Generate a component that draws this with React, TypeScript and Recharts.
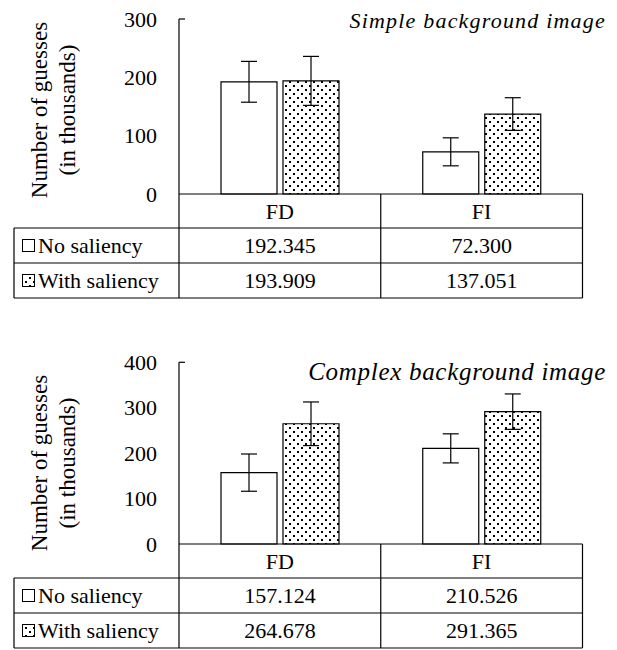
import { BarChart, Bar, XAxis, YAxis, ErrorBar } from 'recharts';

const categories = ['FD', 'FI'];
const seriesNames = ['No saliency', 'With saliency'];

const simpleNo = [192.345, 72.3];
const simpleWith = [193.909, 137.051];
const simpleNoErr = [35, 24];
const simpleWithErr = [42, 28];
const simpleTicks = [0, 100, 200, 300];

const complexNo = [157.124, 210.526];
const complexWith = [264.678, 291.365];
const complexNoErr = [41, 32];
const complexWithErr = [48, 39];
const complexTicks = [0, 100, 200, 300, 400];

const FONT = 'Liberation Serif';
const FS = 22;
const W = 617;
const YW = 179;
const MR = 34.5;
const HALF = (W - YW - MR) / 4;
const ROWS = [34, 35, 35];
const TABLE_H = ROWS[0] + ROWS[1] + ROWS[2];
const LEFT_X = 14;

function TableTick(props: any) {
  const { x, y, payload, noVals, withVals, pid } = props;
  const i = categories.indexOf(payload.value);
  const l = x - HALF;
  const r = x + HALF;
  const y1 = y + ROWS[0];
  const y2 = y1 + ROWS[1];
  const y3 = y2 + ROWS[2];
  const ln = { stroke: '#000', strokeWidth: 1.2 };
  const txt = { fontSize: FS, fontFamily: FONT, fill: '#000', dominantBaseline: 'central' as const };
  return (
    <g>
      <line x1={r} y1={y} x2={r} y2={y3} {...ln} />
      <line x1={i === 0 ? LEFT_X : l} y1={y1} x2={r} y2={y1} {...ln} />
      <line x1={i === 0 ? LEFT_X : l} y1={y2} x2={r} y2={y2} {...ln} />
      <line x1={i === 0 ? LEFT_X : l} y1={y3} x2={r} y2={y3} {...ln} />
      <text x={x} y={y + ROWS[0] / 2} textAnchor="middle" {...txt}>{payload.value}</text>
      <text x={x} y={y1 + ROWS[1] / 2} textAnchor="middle" {...txt}>{noVals[i].toFixed(3)}</text>
      <text x={x} y={y2 + ROWS[2] / 2} textAnchor="middle" {...txt}>{withVals[i].toFixed(3)}</text>
      {i === 0 && (
        <g>
          <line x1={l} y1={y} x2={l} y2={y3} {...ln} />
          <line x1={LEFT_X} y1={y1} x2={LEFT_X} y2={y3} {...ln} />
          <rect x={22.5} y={y1 + ROWS[1] / 2 - 6} width={12} height={12} fill="#fff" stroke="#000" strokeWidth={1} />
          <text x={38} y={y1 + ROWS[1] / 2} textAnchor="start" {...txt}>{seriesNames[0]}</text>
          <rect x={22.5} y={y2 + ROWS[2] / 2 - 6} width={12} height={12} fill={`url(#${pid})`} stroke="#000" strokeWidth={1} />
          <text x={38} y={y2 + ROWS[2] / 2} textAnchor="start" {...txt}>{seriesNames[1]}</text>
        </g>
      )}
    </g>
  );
}

function ValueTick(props: any) {
  const { x, y, payload, max } = props;
  return (
    <g>
      <text x={x} y={y} textAnchor="end" dominantBaseline="central" fontSize={FS} fontFamily={FONT} fill="#000">
        {payload.value}
      </text>
      {payload.value === max && <line x1={x + 22} y1={y} x2={x + 28} y2={y} stroke="#000" strokeWidth={1.2} />}
    </g>
  );
}

interface PanelProps {
  title: string;
  titleSize: number;
  titleSpacing: number;
  noVals: number[];
  withVals: number[];
  noErr: number[];
  withErr: number[];
  ticks: number[];
  top: number;
  height: number;
  marginTop: number;
  titleTop: number;
  labelCenter: number;
  pid: string;
}

function Panel(p: PanelProps) {
  const data = categories.map((c, i) => ({
    cat: c,
    no: p.noVals[i],
    with: p.withVals[i],
    noErr: p.noErr[i],
    withErr: p.withErr[i],
  }));
  const max = p.ticks[p.ticks.length - 1];
  const plotH = p.height - p.marginTop - TABLE_H - 2;

  return (
    <div style={{ position: 'absolute', left: 0, top: p.top, width: W, height: p.height, fontFamily: FONT }}>
      <BarChart
        width={W}
        height={p.height}
        data={data}
        barSize={56}
        barGap={6}
        style={{ fontFamily: FONT }}
        margin={{ top: p.marginTop, right: MR, left: 0, bottom: p.height - p.marginTop - plotH - TABLE_H }}
      >
        <defs>
          <pattern id={p.pid} width={8} height={8} patternUnits="userSpaceOnUse">
            <rect width={8} height={8} fill="#fff" />
            <rect x={1} y={1} width={2} height={2} fill="#000" />
            <rect x={5} y={5} width={2} height={2} fill="#000" />
          </pattern>
        </defs>
        <XAxis
          dataKey="cat"
          height={TABLE_H}
          interval={0}
          tickLine={false}
          tickSize={0}
          tickMargin={0}
          axisLine={{ stroke: '#000', strokeWidth: 1.2 }}
          tick={(t: any) => <TableTick {...t} noVals={p.noVals} withVals={p.withVals} pid={p.pid} />}
        />
        <YAxis
          width={YW}
          domain={[0, max]}
          ticks={p.ticks}
          interval={0}
          tickLine={false}
          tickSize={0}
          tickMargin={22}
          axisLine={{ stroke: '#000', strokeWidth: 1.2 }}
          tick={(t: any) => <ValueTick {...t} max={max} />}
        />
        <Bar dataKey="no" fill="#fff" stroke="#000" strokeWidth={1.2} isAnimationActive={false}>
          <ErrorBar dataKey="noErr" width={8} stroke="#000" strokeWidth={1.2} />
        </Bar>
        <Bar dataKey="with" fill={`url(#${p.pid})`} stroke="#000" strokeWidth={1.2} isAnimationActive={false}>
          <ErrorBar dataKey="withErr" width={8} stroke="#000" strokeWidth={1.2} />
        </Bar>
      </BarChart>
      <div
        style={{
          position: 'absolute',
          right: 11,
          top: p.titleTop,
          fontFamily: FONT,
          fontSize: p.titleSize,
          letterSpacing: p.titleSpacing,
          fontStyle: 'italic',
          lineHeight: `${p.titleSize}px`,
          whiteSpace: 'nowrap',
        }}
      >
        {p.title}
      </div>
      <div
        style={{
          position: 'absolute',
          left: 54 - 110,
          top: p.labelCenter - 28,
          width: 220,
          height: 56,
          lineHeight: '28px',
          textAlign: 'center',
          fontFamily: FONT,
          fontSize: 23,
          transform: 'rotate(-90deg)',
          whiteSpace: 'nowrap',
        }}
      >
        <div>Number of guesses</div>
        <div>(in thousands)</div>
      </div>
    </div>
  );
}

export default function App() {
  return (
    <div style={{ position: 'absolute', left: 0, top: 0, width: W, height: 650, background: '#fff', fontFamily: FONT }}>
      <Panel
        title="Simple background image"
        titleSize={22}
        titleSpacing={1.2}
        noVals={simpleNo}
        withVals={simpleWith}
        noErr={simpleNoErr}
        withErr={simpleWithErr}
        ticks={simpleTicks}
        top={0}
        height={300}
        marginTop={19}
        titleTop={9.6}
        labelCenter={110}
        pid="dotsA"
      />
      <Panel
        title="Complex background image"
        titleSize={25}
        titleSpacing={0.7}
        noVals={complexNo}
        withVals={complexWith}
        noErr={complexNoErr}
        withErr={complexWithErr}
        ticks={complexTicks}
        top={330}
        height={320}
        marginTop={32.3}
        titleTop={29.1}
        labelCenter={133}
        pid="dotsB"
      />
    </div>
  );
}
